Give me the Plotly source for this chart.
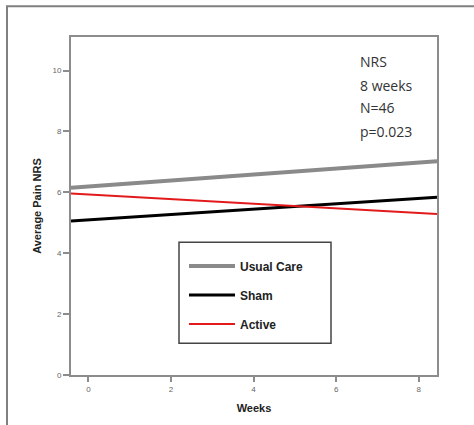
import plotly.graph_objects as go

# ---- data ----
weeks = [-0.42, 8.44]
usual_care = [6.15, 7.02]
sham = [5.06, 5.84]
active = [5.96, 5.29]

x_ticks = [0, 2, 4, 6, 8]
y_ticks = [0, 2, 4, 6, 8, 10]

annotation_lines = ["NRS", "8 weeks", "N=46", "p=0.023"]

# ---- figure ----
W, H = 474, 425
ML, MR, MT, MB = 71, 37, 37, 47
PW, PH = W - ML - MR, H - MT - MB


def px_x(x):
    return (x - ML) / PW


def px_y(y):
    return (H - MB - y) / PH


fig = go.Figure()
fig.add_trace(go.Scatter(x=weeks, y=usual_care, mode="lines", name="Usual Care",
                         legendgroup="a", line=dict(color="#8a8a8a", width=4)))
fig.add_trace(go.Scatter(x=weeks, y=sham, mode="lines", name="Sham",
                         legendgroup="b", line=dict(color="#000000", width=3)))
fig.add_trace(go.Scatter(x=weeks, y=active, mode="lines", name="Active",
                         legendgroup="c", line=dict(color="#e31a1c", width=2)))

axis_common = dict(
    showline=True, linecolor="#8c8c8c", linewidth=2, mirror=True,
    showgrid=False, zeroline=False,
    ticks="outside", tickcolor="#8c8c8c", tickwidth=1.5,
    tickfont=dict(family="Arial, Liberation Sans", size=8, color="#666666"),
)

fig.update_xaxes(range=[-0.42, 8.44], tickvals=x_ticks, ticklen=5,
                 title=dict(text="Weeks", standoff=12,
                            font=dict(family="Arial, Liberation Sans", size=11,
                                      color="#222222", weight="bold")),
                 **axis_common)
fig.update_yaxes(range=[0, 11.1], tickvals=y_ticks, ticklen=6,
                 title=dict(text="Average Pain NRS", standoff=9,
                            font=dict(family="Arial, Liberation Sans", size=11,
                                      color="#222222", weight="bold")),
                 **axis_common)

shapes = [
    # outer picture frame
    dict(type="rect", xref="paper", yref="paper",
         x0=px_x(7), x1=px_x(490), y0=px_y(440), y1=px_y(6),
         line=dict(color="#808080", width=2), fillcolor="rgba(0,0,0,0)", layer="below"),
    # legend box
    dict(type="rect", xref="paper", yref="paper",
         x0=px_x(179), x1=px_x(331), y0=px_y(346), y1=px_y(244),
         line=dict(color="#444444", width=1.5), fillcolor="white", layer="above"),
]

annotations = []
for txt, ypix in zip(annotation_lines, [62, 86, 108, 132]):
    annotations.append(dict(xref="paper", yref="paper", x=px_x(358), y=px_y(ypix),
                            xanchor="left", yanchor="middle", showarrow=False, text=txt,
                            font=dict(family="Open Sans", size=14, color="#333333")))

fig.update_layout(
    width=W, height=H,
    margin=dict(l=ML, r=MR, t=MT, b=MB),
    paper_bgcolor="white", plot_bgcolor="white",
    showlegend=True,
    shapes=shapes,
    annotations=annotations,
    legend=dict(x=px_x(184), y=px_y(253.5), xanchor="left", yanchor="top",
                bgcolor="rgba(0,0,0,0)", borderwidth=0, itemwidth=46,
                tracegroupgap=10, traceorder="grouped",
                font=dict(family="Arial, Liberation Sans", size=12, color="#222222",
                          weight="bold")),
)

fig.write_html("out.html", config={"displayModeBar": False},
               post_script="document.body.style.margin='0';")
